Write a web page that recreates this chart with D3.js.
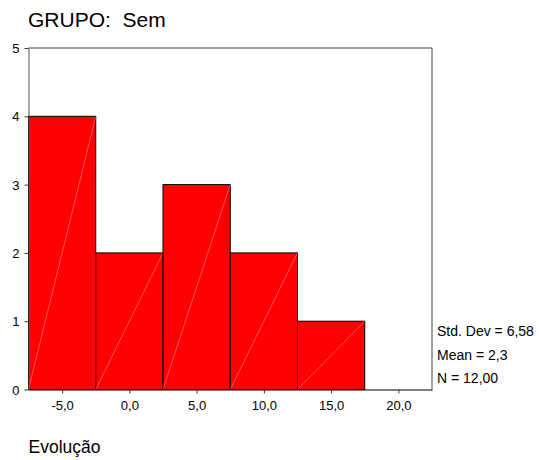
<!DOCTYPE html>
<html>
<head>
<meta charset="utf-8">
<script src="https://cdn.jsdelivr.net/npm/d3@7"></script>
<style>
  body { margin: 0; background: #fff; }
  text { font-family: "Liberation Sans", Arial, sans-serif; fill: #000; }
</style>
</head>
<body>
<svg width="539" height="460"></svg>
<script>
// histogram bins (width 5), centered on these values
var binCenters = [-5, 0, 5, 10, 15, 20];
var counts = [4, 2, 3, 2, 1, 0];
var binWidth = 5;

var xTicks = [-5, 0, 5, 10, 15, 20];
var xTickLabels = ["-5,0", "0,0", "5,0", "10,0", "15,0", "20,0"];
var yTicks = [0, 1, 2, 3, 4, 5];

var stats = ["Std. Dev = 6,58", "Mean = 2,3", "N = 12,00"];
var title = "GRUPO:  Sem";
var xTitle = "Evolução";

var svg = d3.select("svg");

var x = d3.scaleLinear().domain([-7.5, 22.5]).range([28.5, 432]);
var y = d3.scaleLinear().domain([0, 5]).range([389.5, 48]);

// frame (top + right)
svg.append("path")
    .attr("d", "M" + x(-7.5) + "," + y(5) + "H" + x(22.5) + "V" + y(0))
    .attr("fill", "none")
    .attr("stroke", "#444")
    .attr("stroke-width", 1);

// bars
var bars = svg.selectAll("g.bar")
    .data(binCenters.map(function(c, i) { return {c: c, n: counts[i]}; }).filter(function(d) { return d.n > 0; }))
    .enter().append("g").attr("class", "bar");

bars.append("rect")
    .attr("x", function(d) { return x(d.c - binWidth / 2); })
    .attr("y", function(d) { return y(d.n); })
    .attr("width", function(d) { return x(d.c + binWidth / 2) - x(d.c - binWidth / 2); })
    .attr("height", function(d) { return y(0) - y(d.n); })
    .attr("fill", "#ff0000")
    .attr("stroke", "#000")
    .attr("stroke-width", 1);

// faint diagonal from bottom-left to top-right of each bar
bars.append("line")
    .attr("x1", function(d) { return x(d.c - binWidth / 2); })
    .attr("y1", y(0))
    .attr("x2", function(d) { return x(d.c + binWidth / 2); })
    .attr("y2", function(d) { return y(d.n); })
    .attr("stroke", "#fff")
    .attr("stroke-opacity", 0.55)
    .attr("stroke-width", 0.6);

// axes
var xAxis = d3.axisBottom(x)
    .tickValues(xTicks)
    .tickSize(4)
    .tickSizeOuter(0)
    .tickFormat(function(d, i) { return xTickLabels[i]; });

var gx = svg.append("g")
    .attr("transform", "translate(0," + y(0) + ")")
    .call(xAxis);
gx.select(".domain").attr("stroke", "#000");
gx.selectAll(".tick line").attr("stroke", "#333");
gx.selectAll("text")
    .attr("font-size", 13)
    .attr("font-family", "Liberation Sans, Arial, sans-serif")
    .attr("fill", "#000")
    .attr("dy", null)
    .attr("y", 20);

var yAxis = d3.axisLeft(y)
    .tickValues(yTicks)
    .tickSize(4)
    .tickSizeOuter(0)
    .tickPadding(5)
    .tickFormat(d3.format("d"));

var gy = svg.append("g")
    .attr("transform", "translate(" + x(-7.5) + ",0)")
    .call(yAxis);
gy.select(".domain").attr("stroke", "#555");
gy.selectAll(".tick line").attr("stroke", "#333");
gy.selectAll("text")
    .attr("font-size", 13)
    .attr("font-family", "Liberation Sans, Arial, sans-serif")
    .attr("fill", "#000")
    .attr("dy", "0.35em");

// title and axis title
svg.append("text")
    .attr("x", 28)
    .attr("y", 27)
    .attr("font-size", 21)
    .style("white-space", "pre")
    .text(title);

svg.append("text")
    .attr("x", 28.5)
    .attr("y", 453)
    .attr("font-size", 17.5)
    .text(xTitle);

// statistics legend
svg.selectAll("text.stat")
    .data(stats)
    .enter().append("text")
    .attr("class", "stat")
    .attr("x", 437)
    .attr("y", function(d, i) { return 336 + i * 23.6; })
    .attr("font-size", 14)
    .text(function(d) { return d; });
</script>
</body>
</html>
